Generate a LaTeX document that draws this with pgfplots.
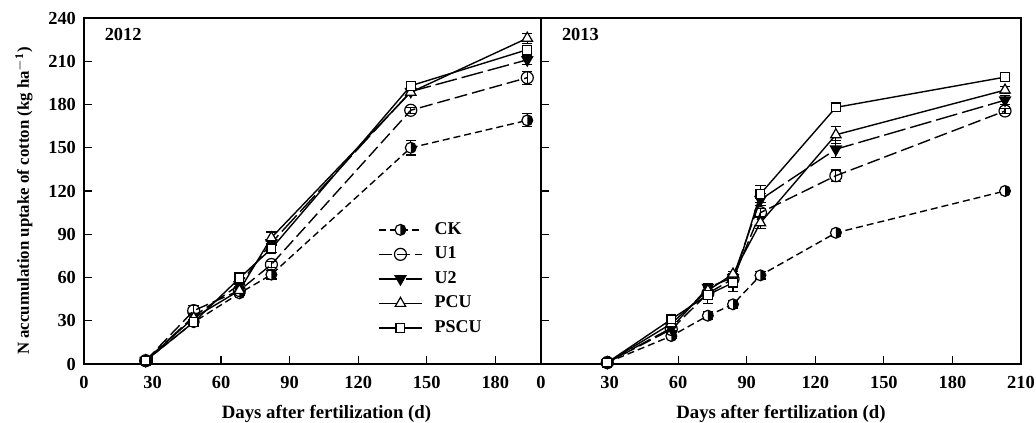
\documentclass[border=0pt]{standalone}
\usepackage{fontspec}
\setmainfont{Liberation Serif}
\usepackage{pgfplots}
\pgfplotsset{compat=1.18}
\usetikzlibrary{plotmarks}
\pgfdeclareplotmark{halfr}{%
  \pgfpathcircle{\pgfpointorigin}{\pgfplotmarksize}%
  \pgfsetfillcolor{white}%
  \pgfusepathqfill
  \pgfpathmoveto{\pgfqpoint{0pt}{\pgfplotmarksize}}%
  \pgfpatharc{90}{-90}{\pgfplotmarksize}%
  \pgfpathclose
  \pgfsetfillcolor{black}%
  \pgfusepathqfill
  \pgfpathcircle{\pgfpointorigin}{\pgfplotmarksize}%
  \pgfusepathqstroke
}
\pgfplotsset{
  base/.style={scale only axis, height=173pt, ymin=0, ymax=240,
    ytick={0,30,...,240}, tick align=inside, tick pos=left,
    major tick length=4pt,
    tick style={black, line width=0.6pt},
    axis line style={line width=0.7pt},
    /pgf/number format/assume math mode=true,
    tick label style={font=\bfseries\fontsize{9.2}{10}\selectfont},
    xticklabel style={yshift=-2.5pt},
    yticklabel style={xshift=-0.5pt},
    xlabel style={font=\bfseries\fontsize{9.4}{10}\selectfont, yshift=-1.5pt},
    ylabel style={font=\bfseries\fontsize{8.4}{10}\selectfont},
    xlabel={Days after fertilization (d)},
    clip=false,
    error bars/y dir=both, error bars/y explicit,
    error bars/error bar style={solid, line width=0.6pt, black},
    error bars/error mark options={solid, rotate=90, mark size=2.6pt, line width=0.6pt, black},
  },
  ck/.style={black, line width=0.7pt, dash pattern=on 3.5pt off 2pt, mark=halfr, mark size=2.7pt, mark options={solid, line width=0.6pt}},
  uone/.style={black, line width=0.7pt, dash pattern=on 6.5pt off 2.5pt, mark=o, mark size=3pt, mark options={solid, fill=white, line width=0.6pt}},
  utwo/.style={black, line width=0.7pt, dash pattern=on 11pt off 2.5pt, mark=triangle*, mark size=3pt, mark options={solid, rotate=180, fill=black}},
  pcu/.style={black, line width=0.7pt, mark=triangle*, mark size=3pt, mark options={solid, fill=white, line width=0.6pt}},
  pscu/.style={black, line width=0.7pt, mark=square*, mark size=2.2pt, mark options={solid, fill=white, line width=0.6pt}},
}
\begin{document}
\begin{tikzpicture}
\begin{axis}[base, name=L, width=228.5pt, xmin=0, xmax=200, xtick={0,30,...,180},
  ylabel={N accumulation uptake of cotton (kg ha$^{\mathbf{-1}}$)},
  ylabel style={yshift=1pt, xshift=-5pt},
  xlabel style={xshift=7pt},
  legend style={draw=none, fill=none, at={(rel axis cs:0.643,0.422)}, anchor=north west,
    font=\bfseries\fontsize{9}{10}\selectfont, row sep=0.8pt, column sep=4pt, inner sep=0pt},
  legend cell align=left,
  legend image code/.code={\draw[mark repeat=2,mark phase=2,#1] plot coordinates {(0pt,0pt) (10.75pt,0pt) (21.5pt,0pt)};}]
\node[anchor=west, font=\bfseries\fontsize{9.2}{10}\selectfont] at (rel axis cs:0.03,0.951) {2012};
\addplot[ck] table[x=x,y=y,y error=e]{
x y e
27 2.3 1
48 29 1.5
68 49 1.5
82 62 3
143 150 5
194 169 4.5
};
\addlegendentry{CK}
\addplot[uone] table[x=x,y=y,y error=e]{
x y e
27 2.3 1
48 37 3.5
68 51 1.5
82 69 2
143 176 2
194 198.6 4.5
};
\addlegendentry{U1}
\addplot[utwo] table[x=x,y=y,y error=e]{
x y e
27 2.3 1
48 33 2
68 55 2
82 84 2
143 189 2
194 211 3
};
\addlegendentry{U2}
\addplot[pcu] table[x=x,y=y,y error=e]{
x y e
27 2.3 1
48 32 2
68 51 2
82 87.6 4
143 188.5 2
194 226 3.5
};
\addlegendentry{PCU}
\addplot[pscu] table[x=x,y=y,y error=e]{
x y e
27 2.3 1
48 29 1.5
68 59.5 4
82 80 2.5
143 193 2
194 218 2.5
};
\addlegendentry{PSCU}
\end{axis}
\begin{axis}[base, name=R, at={(228.5pt,0)}, width=240pt, xmin=0, xmax=210, xtick={0,30,...,210},
  yticklabels={}]
\node[anchor=west, font=\bfseries\fontsize{9.2}{10}\selectfont] at (rel axis cs:0.029,0.951) {2013};
\addplot[ck] table[x=x,y=y,y error=e]{
x y e
29 1 1
57 19.4 1.5
73 33.5 2.5
84 41.4 2.5
96 61.5 2.5
129 91 2.5
203 120 2
};
\addplot[uone] table[x=x,y=y,y error=e]{
x y e
29 1 1
57 24 1.5
73 49 2
84 59 2
96 105 3
129 130.6 4
203 175.5 2
};
\addplot[utwo] table[x=x,y=y,y error=e]{
x y e
29 1 1
57 25 1.5
73 53 3
84 60 2
96 114 4
129 149 6
203 183 3
};
\addplot[pcu] table[x=x,y=y,y error=e]{
x y e
29 1 1
57 28 1.5
73 51 2
84 62.4 2
96 98 4
129 159 6
203 190 2.5
};
\addplot[pscu] table[x=x,y=y,y error=e]{
x y e
29 1 1
57 31 1.5
73 48 6
84 56.4 6
96 118 6
129 178 2
203 199 2
};
\end{axis}
\pgfresetboundingbox
\useasboundingbox ([xshift=-42pt,yshift=-29pt]L.south west) rectangle ([xshift=7.5pt,yshift=9pt]R.north east);
\end{tikzpicture}
\end{document}
